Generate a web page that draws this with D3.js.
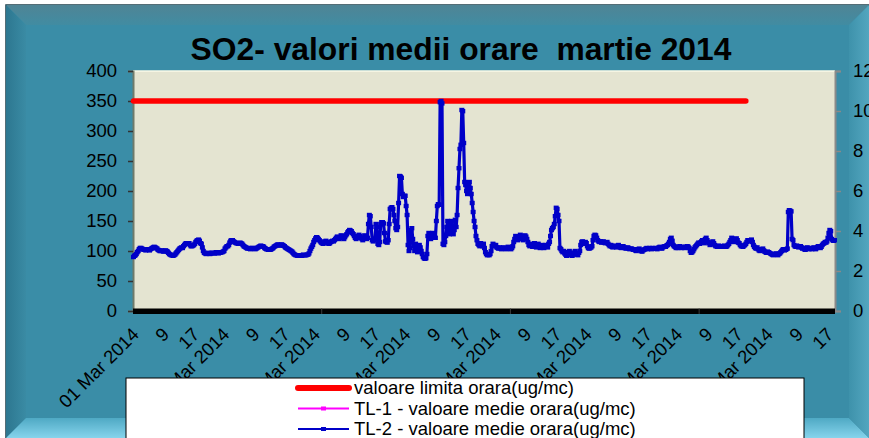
<!DOCTYPE html>
<html>
<head>
<meta charset="utf-8">
<script src="https://cdn.jsdelivr.net/npm/d3@7"></script>
<style>
  body { margin: 0; background: #fff; }
  svg { display: block; font-family: Arial, "Liberation Sans", sans-serif; }
</style>
</head>
<body>
<svg id="chart" width="869" height="438"></svg>
<script>
// SO2 hourly means, March 2014 (ug/mc)
const days = ["01", "02", "03", "04", "05", "06", "07", "08", "09", "10", "11", "12", "13", "14", "15", "16",
  "17", "18", "19", "20", "21", "22", "23", "24", "25", "26", "27", "28", "29", "30", "31"];

// TL-2, one row per day, 24 hourly values
const tl2Hourly = [
  [90, 92, 93, 95, 98, 100, 103, 105, 105, 104, 103, 102, 102, 101, 102, 103, 102, 101, 103, 104, 105, 106, 107, 106],
  [105, 104, 102, 101, 100, 100, 101, 100, 99, 100, 101, 100, 99, 97, 95, 94, 93, 93, 92, 93, 94, 96, 98, 100],
  [102, 104, 105, 106, 105, 108, 110, 112, 113, 113, 112, 113, 110, 108, 108, 109, 110, 112, 115, 117, 118, 119, 117, 113],
  [112, 106, 100, 97, 96, 95, 96, 97, 96, 95, 96, 97, 97, 96, 96, 97, 98, 97, 96, 97, 97, 98, 98, 99],
  [100, 104, 106, 108, 108, 110, 114, 117, 118, 118, 116, 115, 114, 113, 113, 112, 113, 114, 113, 112, 110, 108, 107, 106],
  [105, 104, 105, 104, 103, 104, 105, 105, 104, 103, 104, 105, 106, 107, 108, 109, 108, 108, 107, 105, 104, 103, 103, 102],
  [103, 102, 103, 104, 105, 107, 108, 109, 110, 111, 110, 109, 110, 111, 110, 109, 108, 106, 105, 104, 103, 102, 101, 100],
  [99, 97, 95, 94, 93, 93, 92, 93, 93, 93, 92, 93, 94, 93, 93, 93, 94, 94, 96, 100, 104, 107, 110, 115],
  [118, 121, 123, 122, 120, 118, 116, 114, 113, 112, 114, 116, 117, 115, 113, 112, 113, 115, 116, 117, 116, 118, 120, 122],
  [124, 122, 120, 123, 126, 125, 122, 120, 123, 126, 128, 131, 133, 135, 134, 133, 130, 128, 125, 122, 120, 122, 125, 127],
  [125, 122, 120, 118, 122, 126, 124, 120, 122, 145, 160, 158, 140, 118, 116, 118, 120, 145, 140, 112, 110, 115, 145, 148],
  [148, 146, 130, 116, 115, 114, 118, 145, 170, 172, 173, 170, 160, 150, 138, 135, 140, 180, 225, 224, 222, 195, 190, 192],
  [192, 175, 160, 110, 100, 105, 135, 138, 120, 108, 100, 112, 105, 98, 102, 110, 106, 100, 95, 90, 88, 87, 88, 95],
  [125, 130, 122, 120, 125, 130, 128, 124, 122, 150, 175, 178, 177, 348, 350, 346, 112, 110, 115, 125, 140, 150, 135, 128],
  [140, 150, 130, 128, 135, 152, 140, 160, 205, 238, 270, 277, 335, 333, 280, 215, 210, 200, 195, 210, 215, 205, 195, 180],
  [165, 150, 140, 125, 118, 112, 110, 108, 113, 110, 108, 112, 105, 98, 95, 93, 94, 93, 95, 100, 108, 112, 110, 108],
  [110, 106, 105, 104, 106, 105, 103, 104, 106, 105, 104, 103, 105, 107, 106, 104, 103, 105, 108, 115, 120, 125, 122, 118],
  [120, 124, 127, 125, 120, 118, 122, 126, 124, 120, 115, 110, 108, 112, 110, 107, 110, 113, 108, 106, 110, 112, 108, 105],
  [108, 110, 106, 105, 107, 110, 108, 106, 112, 115, 125, 135, 138, 140, 145, 158, 172, 170, 160, 150, 105, 103, 100, 98],
  [100, 96, 94, 92, 95, 98, 100, 97, 93, 92, 94, 97, 100, 96, 94, 93, 97, 100, 110, 115, 116, 114, 112, 115],
  [113, 108, 105, 104, 105, 106, 108, 118, 125, 127, 126, 122, 118, 116, 115, 116, 114, 115, 116, 114, 113, 114, 115, 112],
  [110, 108, 110, 107, 106, 108, 109, 107, 106, 108, 110, 108, 106, 105, 107, 108, 106, 105, 104, 105, 106, 104, 103, 104],
  [104, 103, 102, 103, 101, 100, 102, 103, 104, 102, 100, 99, 101, 102, 103, 104, 105, 103, 104, 105, 104, 103, 105, 104],
  [104, 105, 104, 103, 105, 106, 107, 105, 104, 106, 107, 108, 107, 109, 110, 112, 115, 120, 122, 117, 110, 108, 107, 105],
  [106, 105, 107, 108, 106, 105, 107, 106, 105, 107, 106, 108, 107, 105, 100, 97, 98, 100, 103, 106, 108, 110, 112, 114],
  [112, 114, 116, 118, 115, 113, 120, 122, 118, 115, 113, 110, 112, 114, 116, 113, 110, 108, 108, 107, 109, 108, 107, 108],
  [108, 107, 109, 108, 107, 108, 110, 112, 115, 118, 122, 120, 117, 115, 119, 121, 118, 114, 113, 110, 108, 108, 107, 109],
  [110, 112, 115, 118, 117, 116, 118, 119, 115, 110, 107, 105, 104, 106, 103, 101, 100, 102, 103, 104, 101, 99, 98, 97],
  [99, 98, 97, 96, 95, 94, 93, 94, 95, 96, 94, 93, 95, 96, 98, 100, 102, 103, 101, 102, 103, 104, 165, 168],
  [167, 166, 120, 118, 110, 108, 107, 109, 108, 106, 107, 108, 106, 104, 105, 103, 102, 104, 106, 105, 103, 104, 105, 103],
  [104, 106, 105, 103, 105, 107, 108, 106, 105, 107, 110, 112, 113, 115, 114, 116, 122, 130, 135, 133, 120, 118, 117, 118]
];

// TL-1 has no values in this month
const tl1Hourly = [];

// hourly limit value, present for the first 650 hours
const limitValue = 350;
const limitHours = 650;

const leftTicks = [0, 50, 100, 150, 200, 250, 300, 350, 400];
const rightTicks = [0, 2, 4, 6, 8, 10, 12];
const xTickLabels = ["01 Mar 2014", "9", "17", "05 Mar 2014", "9", "17", "09 Mar 2014", "9", "17",
  "13 Mar 2014", "9", "17", "17 Mar 2014", "9", "17", "21 Mar 2014", "9", "17",
  "25 Mar 2014", "9", "17", "29 Mar 2014", "9", "17"];
const legendNames = ["valoare limita orara(ug/mc)", "TL-1 - valoare medie orara(ug/mc)", "TL-2 - valoare medie orara(ug/mc)"];

const plot = { left: 133, right: 835, top: 71, bottom: 311 };
const font = 18.5;

const svg = d3.select("#chart");
const defs = svg.append("defs");

// ---- frame with bevel ----
function grad(id, x2, y2, stops) {
  const g = defs.append("linearGradient").attr("id", id)
    .attr("x1", 0).attr("y1", 0).attr("x2", x2).attr("y2", y2);
  stops.forEach(s => g.append("stop").attr("offset", s[0]).attr("stop-color", s[1]));
}
grad("gTop", 0, 1, [[0, "#4f8495"], [1, "#418ca2"]]);
grad("gLeft", 1, 0, [[0, "#2d7790"], [1, "#3a8ba4"]]);
grad("gBottom", 0, 1, [[0, "#4fa9c4"], [1, "#86d4ec"]]);
grad("gRight", 1, 0, [[0, "#3e92ab"], [1, "#53a6bf"]]);

const fx0 = 6, fy0 = 5, fx1 = 869, fy1 = 438, bw = 20;
svg.append("rect").attr("x", fx0).attr("y", fy0).attr("width", fx1 - fx0 + 10).attr("height", fy1 - fy0 + 10)
  .attr("fill", "#3a8da7").attr("stroke", "#1d3e4a").attr("stroke-width", 1.5);
const bevel = [
  ["gTop", [[fx0, fy0], [fx1, fy0], [fx1 - bw, fy0 + bw], [fx0 + bw, fy0 + bw]]],
  ["gLeft", [[fx0, fy0], [fx0 + bw, fy0 + bw], [fx0 + bw, fy1 - bw], [fx0, fy1]]],
  ["gBottom", [[fx0, fy1], [fx0 + bw, fy1 - bw], [fx1 - bw, fy1 - bw], [fx1, fy1]]],
  ["gRight", [[fx1, fy0], [fx1 - bw, fy0 + bw], [fx1 - bw, fy1 - bw], [fx1, fy1]]]
];
svg.append("g").selectAll("polygon").data(bevel).join("polygon")
  .attr("points", d => d[1].map(p => p.join(",")).join(" "))
  .attr("fill", d => `url(#${d[0]})`);

// ---- title ----
svg.append("text")
  .attr("x", 461).attr("y", 60)
  .attr("text-anchor", "middle")
  .style("white-space", "pre")
  .attr("font-size", 31.8).attr("font-weight", "bold").attr("fill", "#000")
  .text("SO2- valori medii orare  martie 2014");

// ---- scales ----
const tl2 = tl2Hourly.flat();
const nHours = days.length * 24;
const x = d3.scaleLinear().domain([0, nHours]).range([plot.left, plot.right]);
const y = d3.scaleLinear().domain([0, 400]).range([plot.bottom, plot.top]);
const y2 = d3.scaleLinear().domain([0, 12]).range([plot.bottom, plot.top]);
const px = i => x(i + 0.5);

// plot background
svg.append("rect")
  .attr("x", plot.left).attr("y", plot.top)
  .attr("width", plot.right - plot.left).attr("height", plot.bottom - plot.top)
  .attr("fill", "#e4e4d1");
svg.append("line").attr("x1", plot.left).attr("x2", plot.right).attr("y1", plot.top).attr("y2", plot.top)
  .attr("stroke", "#fbfbe8").attr("stroke-width", 1.5);

// ---- left axis ----
const yAxis = svg.append("g").attr("transform", `translate(${plot.left},0)`)
  .call(d3.axisLeft(y).tickValues(leftTicks).tickSize(5).tickPadding(11));
yAxis.select(".domain").attr("stroke", "#6f7a6a").attr("stroke-width", 2);
yAxis.selectAll(".tick line").attr("stroke", "#333").attr("stroke-width", 1.5);
yAxis.selectAll(".tick text").attr("font-size", font).attr("font-family", null).attr("fill", "#000");

// ---- right axis ----
const y2Axis = svg.append("g").attr("transform", `translate(${plot.right},0)`)
  .call(d3.axisRight(y2).tickValues(rightTicks).tickSize(6).tickPadding(12));
y2Axis.select(".domain").attr("stroke", "#8a8a8a").attr("stroke-width", 2);
y2Axis.selectAll(".tick line").attr("stroke", "#8a8a8a").attr("stroke-width", 1.5);
y2Axis.selectAll(".tick text").attr("font-size", font).attr("font-family", null).attr("fill", "#000");

// ---- x axis (thick black band) ----
svg.append("rect").attr("x", plot.left).attr("y", plot.bottom - 2.5)
  .attr("width", plot.right - plot.left).attr("height", 5.5).attr("fill", "#000");
svg.append("g").selectAll("line").data([200, 400, 600]).join("line")
  .attr("x1", d => x(d)).attr("x2", d => x(d))
  .attr("y1", plot.bottom - 2.5).attr("y2", plot.bottom + 3)
  .attr("stroke", "#3a3a3a").attr("stroke-width", 1);

svg.append("g").selectAll("text").data(xTickLabels).join("text")
  .attr("transform", (d, k) => `translate(${px(k * 32) + 2},${plot.bottom + 20}) rotate(-45)`)
  .attr("text-anchor", "end")
  .attr("dy", "0.35em")
  .attr("font-size", font)
  .attr("fill", "#000")
  .text(d => d);

// ---- series ----
const line = d3.line().x(d => px(d[0])).y(d => y(d[1]));

svg.append("path")
  .datum([[0, limitValue], [limitHours - 1, limitValue]])
  .attr("d", line)
  .attr("fill", "none").attr("stroke", "#ff0000").attr("stroke-width", 5.5).attr("stroke-linecap", "round");

svg.append("path")
  .datum(tl1Hourly.flat().map((v, i) => [i, v]))
  .attr("d", line)
  .attr("fill", "none").attr("stroke", "#ff00ff").attr("stroke-width", 2.5);

const tl2Points = tl2.map((v, i) => [i, v]);
svg.append("path")
  .datum(tl2Points)
  .attr("d", line)
  .attr("fill", "none").attr("stroke", "#0000c8").attr("stroke-width", 3.2).attr("stroke-linejoin", "round");
svg.append("g").selectAll("rect").data(tl2Points).join("rect")
  .attr("x", d => px(d[0]) - 2.5).attr("y", d => y(d[1]) - 2.2)
  .attr("width", 5).attr("height", 4.4)
  .attr("fill", "#0000c8");

// ---- legend ----
const legend = svg.append("g");
legend.append("rect").attr("x", 126).attr("y", 378).attr("width", 678).attr("height", 80)
  .attr("fill", "#fff").attr("stroke", "#000").attr("stroke-width", 1);
const legendStyle = [
  { color: "#ff0000", width: 6, marker: false },
  { color: "#ff00ff", width: 2.2, marker: true },
  { color: "#0000c8", width: 2.2, marker: true }
];
legendNames.forEach((name, k) => {
  const ly = 388 + k * 20.5;
  const st = legendStyle[k];
  legend.append("line").attr("x1", 298).attr("x2", 349).attr("y1", ly).attr("y2", ly)
    .attr("stroke", st.color).attr("stroke-width", st.width).attr("stroke-linecap", k === 0 ? "round" : "butt");
  if (st.marker) {
    legend.append("rect").attr("x", 321).attr("y", ly - 2).attr("width", 5).attr("height", 4).attr("fill", st.color);
  }
  legend.append("text").attr("x", 354).attr("y", ly).attr("dy", "0.35em")
    .attr("font-size", font).attr("fill", "#000").text(name);
});
</script>
</body>
</html>
